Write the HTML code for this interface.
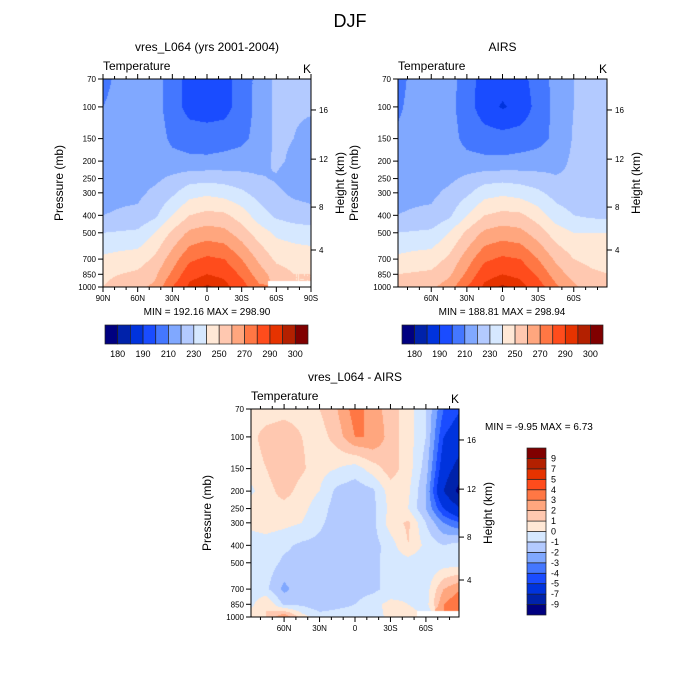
<!DOCTYPE html>
<html><head><meta charset="utf-8">
<style>
html,body{margin:0;padding:0;background:#fff;}
#root{position:relative;width:700px;height:700px;overflow:hidden;font-family:"Liberation Sans",sans-serif;}
canvas{position:absolute;}
svg{position:absolute;left:0;top:0;}
text{font-family:"Liberation Sans",sans-serif;fill:#000;}
</style></head>
<body>
<div id="root">
<canvas id="c1" width="208" height="208" style="left:103px;top:79px"></canvas>
<canvas id="c2" width="209" height="208" style="left:398px;top:79px"></canvas>
<canvas id="c3" width="208" height="208" style="left:251px;top:409px"></canvas>
<svg id="ov" width="700" height="700">
<text x="350" y="27" font-size="18" text-anchor="middle">DJF</text>
</svg>
</div>
<script>
const LATS=[90,75,60,45,30,15,0,-15,-30,-45,-60,-75,-90];
const PLEVS=[70,100,150,200,250,300,400,500,700,850,1000];
const MODEL_T=[
[206,214,216,214,205,196,195,196,205,213,222,224,224],
[210,215,215,214,205,196,195,196,205,213,222,222,222],
[214,216,218,215,208,206,205,206,208,213,222,220,215],
[215,216,216,215,213,212,212,213,214,216,222,218,215],
[216,217,218,218,222,226,227,226,224,221,219,215,215],
[217,218,218,222,228,236,238,236,232,226,222,218,217],
[220,221,222,228,240,250,253,252,245,235,228,225,223],
[230,231,232,240,252,262,265,263,255,245,238,236,235],
[242,244,245,252,265,278,282,280,270,258,248,246,245],
[248,250,252,258,272,287,290,288,278,265,255,250,250],
[250,254,258,262,280,292,296,293,285,272,null,null,null]];
const AIRS_T=[
[205,213,216,214,205,195,194,196,205,213,220,224,232],
[207,214,216,213,205,194,189,193,204,213,220,222,224],
[212,215,216,214,207,205,204,205,207,212,221,221,221],
[214,215,216,215,213,212,212,213,214,216,222,222,222],
[216,217,217,218,222,226,227,226,224,221,222,222,222],
[217,218,218,222,228,236,238,236,232,226,224,223,222],
[220,221,222,228,240,250,253,252,245,235,230,228,227],
[230,231,232,240,252,262,265,263,255,245,240,240,240],
[242,244,245,252,265,278,282,280,270,258,250,247,245],
[250,251,252,258,272,287,290,288,278,265,256,252,250],
[252,254,258,265,280,292,296,293,285,272,262,255,252]];
const DIFF=[
[0.5,0.3,0.5,0.5,1,2,3.5,2.5,1.5,0.5,-1,-4,-5],
[0.5,1.5,1.8,1,0.5,1.5,3,3,1.5,0.5,-1,-5,-6],
[0.3,1,2,1.2,0.3,0,-0.5,0.5,1.5,0.5,-1.5,-6,-8],
[-0.3,0.5,1.5,0.5,0,-1.3,-1.6,-1.2,0.5,0.2,-2,-7,-10],
[0.5,0.8,0.5,0.3,-0.5,-1.5,-1.5,-1.3,0.3,0,-2,-5,-7],
[0.2,0.5,0.3,0,-0.8,-1.5,-1.5,-1.3,0.5,1.2,-1,-3,-4],
[-0.5,-0.5,-0.8,-1.2,-1.3,-1.5,-1.5,-1.4,-0.5,1,-0.3,-1,-0.5],
[-0.5,-0.5,-1.2,-1.3,-1.8,-1.5,-1.5,-1.3,-0.6,-0.5,-0.8,-0.5,-0.5],
[-0.3,-0.8,-2.3,-1.3,-1.6,-1.5,-1.5,-1.3,-0.6,-0.3,-0.5,2,3],
[-0.5,1,-1.2,-1.2,-1.7,-1.3,-1,-0.3,0.3,0,-0.5,3,4],
[0.5,1,3,0.5,-0.5,-0.5,-0.5,-0.5,0.3,0.5,null,null,null]];
const T_BOUNDS=[180,185,190,200,210,220,230,240,250,260,270,280,290,295,300];
const T_LABELS=['180','','190','','210','','230','','250','','270','','290','','300'];
const D_BOUNDS=[-9,-7,-5,-4,-3,-2,-1,0,1,2,3,4,5,7,9];
const D_LABELS=['-9','-7','-5','-4','-3','-2','-1','0','1','2','3','4','5','7','9'];
const COLORS=['#000080','#0022aa','#0033dd','#1a4cff','#4477ff','#80a8ff','#b3caff','#d6e8ff','#ffe8d6','#ffc8b0','#ffa67e','#ff7744','#ff4c1c','#e63300','#b32000','#800000'];
const P_TICKS=[70,100,150,200,250,300,400,500,700,850,1000];
const HGT_KM=[4,8,12,16];
const HGT_P=[623,360,195,104];
const LAT_TICKS=[90,60,30,0,-30,-60,-90];

const NS='http://www.w3.org/2000/svg';
const ov=document.getElementById('ov');
function mk(tag,attrs,name,txt){
  const el=document.createElementNS(NS,tag);
  for(const k in attrs) el.setAttribute(k,attrs[k]);
  
  
  if(txt!==undefined) el.textContent=txt;
  ov.appendChild(el);
  return el;
}
function hex(c){return [parseInt(c.slice(1,3),16),parseInt(c.slice(3,5),16),parseInt(c.slice(5,7),16)];}
const RGB=COLORS.map(hex);
function cidx(v,b){let i=0;while(i<b.length&&v>=b[i])i++;return i;}
function latFmt(l){return l===0?'0':(Math.abs(l)+(l>0?'N':'S'));}

function panel(o){
  const {x0,y0,w,h,latMax,data,bounds,cv}=o;
  const L=Math.log(1000/70);
  const xs=lat=>x0+(latMax-lat)/(2*latMax)*w;
  const ys=p=>y0+Math.log(p/70)/L*h;
  const ctx=document.getElementById(cv).getContext('2d');
  const W=ctx.canvas.width,H=ctx.canvas.height;
  const img=ctx.createImageData(W,H);
  for(let py=0;py<H;py++){
    const p=70*Math.exp((py+0.5)/h*L);
    let j=0;while(j<PLEVS.length-2&&p>PLEVS[j+1])j++;
    let fy=(Math.log(p)-Math.log(PLEVS[j]))/(Math.log(PLEVS[j+1])-Math.log(PLEVS[j]));
    fy=Math.max(0,Math.min(1,fy));
    for(let px=0;px<W;px++){
      const lat=latMax-(px+0.5)/w*2*latMax;
      let i=0;while(i<LATS.length-2&&lat<LATS[i+1])i++;
      let fx=(LATS[i]-lat)/(LATS[i]-LATS[i+1]);fx=Math.max(0,Math.min(1,fx));
      const a=data[j][i],b=data[j][i+1],c=data[j+1][i],d=data[j+1][i+1];
      const near=data[fy<0.5?j:j+1][fx<0.5?i:i+1];
      const k=(py*W+px)*4;
      if(near===null){img.data[k]=255;img.data[k+1]=255;img.data[k+2]=255;img.data[k+3]=255;continue;}
      const vals=[a,b,c,d].map(v=>v===null?near:v);
      const v=vals[0]*(1-fx)*(1-fy)+vals[1]*fx*(1-fy)+vals[2]*(1-fx)*fy+vals[3]*fx*fy;
      const col=RGB[cidx(v,bounds)];
      img.data[k]=col[0];img.data[k+1]=col[1];img.data[k+2]=col[2];img.data[k+3]=255;
    }
  }
  ctx.putImageData(img,0,0);
  mk('rect',{x:x0,y:y0,width:w,height:h,fill:'none',stroke:'#000','stroke-width':1},o.pre+'-plot-frame');
  mk('text',{x:x0+w/2,y:y0-28,'font-size':12,'text-anchor':'middle'},o.pre+'-title',o.title);
  mk('text',{x:x0,y:y0-9,'font-size':12},o.pre+'-variable-label','Temperature');
  mk('text',{x:x0+w,y:y0-6,'font-size':12,'text-anchor':'end'},o.pre+'-units-label','K');
  P_TICKS.forEach(p=>{
    const y=ys(p);
    mk('line',{x1:x0-5,x2:x0,y1:y,y2:y,stroke:'#000'},o.pre+'-pressure-tick');
    mk('text',{x:x0-7,y:y+3,'font-size':8,'text-anchor':'end'},o.pre+'-pressure-tick-label',String(p));
  });
  HGT_KM.forEach((z,n)=>{
    const y=ys(HGT_P[n]);
    mk('line',{x1:x0+w,x2:x0+w+5,y1:y,y2:y,stroke:'#000'},o.pre+'-height-tick');
    mk('text',{x:x0+w+8,y:y+3,'font-size':8},o.pre+'-height-tick-label',String(z));
  });
  for(let l=-90;l<=90;l+=10){
    if(Math.abs(l)>latMax+0.01)continue;
    const x=xs(l),len=(l%30===0)?5:3;
    mk('line',{x1:x,x2:x,y1:y0+h,y2:y0+h+len,stroke:'#000'},o.pre+'-lat-tick');
    mk('line',{x1:x,x2:x,y1:y0,y2:y0-len,stroke:'#000'},o.pre+'-lat-tick-top');
  }
  LAT_TICKS.forEach(l=>{
    if(Math.abs(l)>latMax+0.01)return;
    mk('text',{x:xs(l),y:y0+h+14,'font-size':8,'text-anchor':'middle'},o.pre+'-lat-tick-label',latFmt(l));
  });
  mk('text',{x:0,y:0,'font-size':12,'text-anchor':'middle',transform:`translate(${x0-40},${y0+h/2}) rotate(-90)`},o.pre+'-y-axis-title','Pressure (mb)');
  mk('text',{x:0,y:0,'font-size':12,'text-anchor':'middle',transform:`translate(${x0+w+33},${y0+h/2}) rotate(-90)`},o.pre+'-height-axis-title','Height (km)');
}
function hbar(x0,y0,w,h,pre){
  const n=COLORS.length,bw=w/n;
  COLORS.forEach((c,i)=>mk('rect',{x:x0+i*bw,y:y0,width:bw,height:h,fill:c,stroke:'#222','stroke-width':0.7},pre+'-colorbar-box'));
  T_LABELS.forEach((t,i)=>{if(t)mk('text',{x:x0+(i+1)*bw,y:y0+h+13,'font-size':9,'text-anchor':'middle'},pre+'-colorbar-label',t);});
}
panel({pre:'model',x0:103,y0:79,w:208,h:208,latMax:90,data:MODEL_T,bounds:T_BOUNDS,cv:'c1',title:'vres_L064 (yrs 2001-2004)'});
mk('text',{x:207,y:315,'font-size':10,'text-anchor':'middle'},'model-min-max','MIN = 192.16  MAX = 298.90');
hbar(105,325,203,19,'model');
panel({pre:'airs',x0:398,y0:79,w:209,h:208,latMax:88,data:AIRS_T,bounds:T_BOUNDS,cv:'c2',title:'AIRS'});
mk('text',{x:502,y:315,'font-size':10,'text-anchor':'middle'},'airs-min-max','MIN = 188.81  MAX = 298.94');
hbar(402,325,201,19,'airs');
panel({pre:'diff',x0:251,y0:409,w:208,h:208,latMax:88,data:DIFF,bounds:D_BOUNDS,cv:'c3',title:'vres_L064 - AIRS'});
mk('text',{x:485,y:430,'font-size':10},'diff-min-max','MIN =  -9.95  MAX =   6.73');
(function(){
  const x0=527,y0=448,w=19,h=167,n=COLORS.length,bh=h/n;
  COLORS.forEach((c,i)=>mk('rect',{x:x0,y:y0+(n-1-i)*bh,width:w,height:bh,fill:c,stroke:'#222','stroke-width':0.7},'diff-colorbar-box'));
  D_LABELS.forEach((t,i)=>mk('text',{x:x0+w+5,y:y0+(n-1-i)*bh+3,'font-size':9},'diff-colorbar-label',t));
})();
</script>
</body></html>
